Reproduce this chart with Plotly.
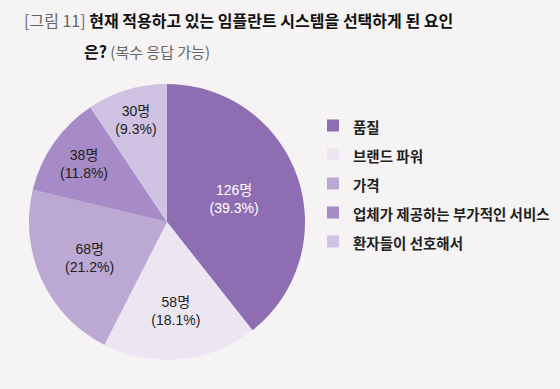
import plotly.graph_objects as go

labels = ["품질", "브랜드 파워", "가격", "업체가 제공하는 부가적인 서비스", "환자들이 선호해서"]
counts = [126, 58, 68, 38, 30]
percents = [39.3, 18.1, 21.2, 11.8, 9.3]
colors = ["#8F6DB3", "#ECE6F2", "#BBA8D3", "#A68BC6", "#CFC2E2"]
text_colors = ["#FFFFFF", "#222222", "#222222", "#222222", "#222222"]

slice_text = [f"{c}명<br>({p}%)" for c, p in zip(counts, percents)]
legend_names = [f'<span style="font-size:14.5px">{l}</span>' for l in labels]

W, H = 560, 389
cx, cy, r = 167, 222, 138

fig = go.Figure(go.Pie(
    labels=legend_names,
    values=counts,
    text=slice_text,
    textinfo="text",
    textposition="inside",
    insidetextorientation="horizontal",
    sort=False,
    direction="clockwise",
    rotation=0,
    marker=dict(colors=colors, line=dict(width=0)),
    insidetextfont=dict(color=text_colors, size=14, family="Liberation Sans, Noto Sans CJK KR"),
    hoverinfo="label+value",
    domain=dict(x=[(cx - r) / W, (cx + r) / W], y=[1 - (cy + r) / H, 1 - (cy - r) / H]),
))

fig.update_layout(
    width=W, height=H,
    margin=dict(l=0, r=0, t=0, b=0),
    paper_bgcolor="#F6F3F4",
    plot_bgcolor="#F6F3F4",
    font=dict(family="Noto Sans CJK KR", color="#222222"),
    uniformtext=dict(minsize=14, mode="show"),
    legend=dict(
        x=313 / W, y=1 - 106 / H, xanchor="left", yanchor="top",
        font=dict(size=20, color="#222222", family="Noto Sans CJK KR", weight="bold"),
        bgcolor="rgba(0,0,0,0)",
        itemclick=False, itemdoubleclick=False,
        traceorder="normal",
    ),
    annotations=[
        dict(
            x=22 / W, y=1 - 20 / H, xref="paper", yref="paper", xanchor="left", yanchor="middle",
            showarrow=False,
            text='<span style="color:#666666;font-weight:normal">[그림 11]</span> <b>현재 적용하고 있는 임플란트 시스템을 선택하게 된 요인</b>',
            font=dict(size=16, color="#111111", family="Noto Sans CJK KR"),
        ),
        dict(
            x=82 / W, y=1 - 51 / H, xref="paper", yref="paper", xanchor="left", yanchor="middle",
            showarrow=False,
            text='<b>은?</b><span style="color:#666666;font-size:15px"> (복수 응답 가능)</span>',
            font=dict(size=16, color="#111111", family="Noto Sans CJK KR"),
        ),
    ],
)

fig.write_html(
    "out.html",
    config={"displayModeBar": False},
    post_script="document.body.style.margin='0';document.body.style.overflow='hidden';",
)
